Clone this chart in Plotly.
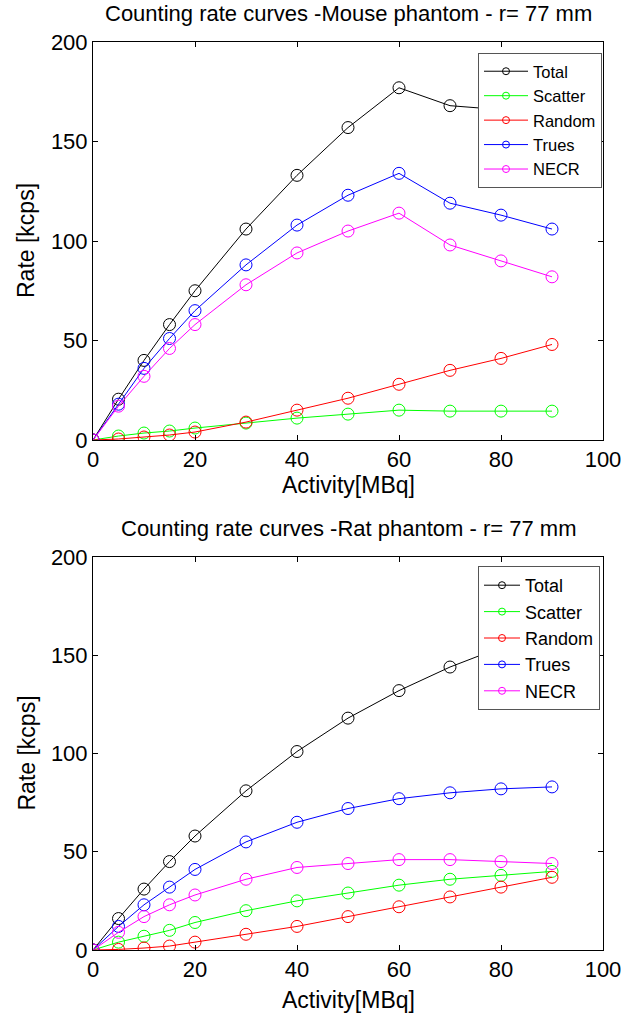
import plotly.graph_objects as go

activity = [0, 5, 10, 15, 20, 30, 40, 50, 60, 70, 80, 90]

mouse_total = [0, 20.5, 40, 58, 75, 106, 133, 157, 177, 168, 166, 162]
mouse_scatter = [0, 2, 3.5, 4.5, 6, 8.5, 11, 13, 15, 14.5, 14.5, 14.5]
mouse_random = [0, 0.5, 1.5, 2.5, 4, 9, 15, 21, 28, 35, 41, 48]
mouse_trues = [0, 18, 36, 51, 65, 88, 108, 123, 134, 119, 113, 106]
mouse_necr = [0, 17, 32, 46, 58, 78, 94, 105, 114, 98, 90, 82]

rat_total = [0, 16, 31, 45, 58, 81, 101, 118, 132, 144, 154, 162]
rat_scatter = [0, 4, 7, 10, 14, 20, 25, 29, 33, 36, 38, 40]
rat_random = [0, 0.3, 1, 2, 4, 8, 12, 17, 22, 27, 32, 37]
rat_trues = [0, 12, 23, 32, 41, 55, 65, 72, 77, 80, 82, 83]
rat_necr = [0, 9, 17, 23, 28, 36, 42, 44, 46, 46, 45, 44]

names = ["Total", "Scatter", "Random", "Trues", "NECR"]
colors = ["#000000", "#00ff00", "#ff0000", "#0000ff", "#ff00ff"]
titles = ["Counting rate curves -Mouse phantom - r= 77 mm",
          "Counting rate curves -Rat phantom - r= 77 mm"]
x_title = "Activity[MBq]"
y_title = "Rate [kcps]"
x_ticks = [0, 20, 40, 60, 80, 100]
y_ticks = [0, 50, 100, 150, 200]

W, H = 635, 1013
FONT = "Liberation Sans, Arial, sans-serif"

fig = go.Figure()

series_sets = [
    [mouse_total, mouse_scatter, mouse_random, mouse_trues, mouse_necr],
    [rat_total, rat_scatter, rat_random, rat_trues, rat_necr],
]

x0, x1 = 93 / W, 603 / W
ydoms = [(1 - 440 / H, 1 - 42 / H), (1 - 950 / H, 1 - 557 / H)]
title_y = [14, 528]
xlabel_y = [485, 1000]
legend_pos = [(602, 53), (600, 566)]
legend_font = [16.5, 18]
legend_itemwidth = [44, 36]

for i, sset in enumerate(series_sets):
    xa = "x" if i == 0 else "x2"
    ya = "y" if i == 0 else "y2"
    lg = "legend" if i == 0 else "legend2"
    for name, col, vals in zip(names, colors, sset):
        fig.add_trace(go.Scatter(
            x=activity, y=vals, name=name, mode="lines+markers",
            line=dict(color=col, width=1),
            marker=dict(symbol="circle-open", size=12, color=col, line=dict(width=1, color=col)),
            xaxis=xa, yaxis=ya, legend=lg, showlegend=False, cliponaxis=True,
        ))
    # legend entries (small markers as in the reference legend)
    for name, col in zip(names, colors):
        fig.add_trace(go.Scatter(
            x=[None], y=[None], name=name, mode="lines+markers",
            line=dict(color=col, width=1),
            marker=dict(symbol="circle-open", size=7, color=col, line=dict(width=1, color=col)),
            xaxis=xa, yaxis=ya, legend=lg, showlegend=True, hoverinfo="skip",
        ))

axis_common = dict(
    showline=True, linecolor="black", linewidth=1, mirror="ticks",
    ticks="inside", ticklen=5, tickcolor="black", showgrid=False, zeroline=False,
    tickfont=dict(family=FONT, size=22, color="black"), automargin=False,
)

for i in range(2):
    sx = "" if i == 0 else "2"
    fig.layout["xaxis" + sx] = dict(
        axis_common, domain=[x0, x1], range=[0, 100], tickvals=x_ticks,
        anchor="y" + sx, ticklabelstandoff=0,
    )
    fig.layout["yaxis" + sx] = dict(
        axis_common, domain=list(ydoms[i]), range=[0, 200], tickvals=y_ticks,
        anchor="x" + sx, ticklabelstandoff=0,
    )
    fig.add_annotation(
        text=titles[i], xref="paper", yref="paper",
        x=(x0 + x1) / 2, y=1 - title_y[i] / H, xanchor="center", yanchor="middle",
        showarrow=False, font=dict(family=FONT, size=22, color="black"),
    )
    fig.add_annotation(
        text=x_title, xref="paper", yref="paper",
        x=(x0 + x1) / 2, y=1 - xlabel_y[i] / H, xanchor="center", yanchor="middle",
        showarrow=False, font=dict(family=FONT, size=23, color="black"),
    )
    fig.add_annotation(
        text=y_title, xref="paper", yref="paper", textangle=-90,
        x=26 / W, y=(ydoms[i][0] + ydoms[i][1]) / 2, xanchor="center", yanchor="middle",
        showarrow=False, font=dict(family=FONT, size=23, color="black"),
    )

def legend_cfg(i):
    return dict(
        bgcolor="white", bordercolor="#555555", borderwidth=1,
        font=dict(family=FONT, size=legend_font[i], color="black"),
        xanchor="right", yanchor="top", tracegroupgap=0,
        itemwidth=legend_itemwidth[i],
        x=legend_pos[i][0] / W, y=1 - legend_pos[i][1] / H,
    )

fig.update_layout(
    width=W, height=H, margin=dict(l=0, r=0, t=0, b=0, autoexpand=False),
    paper_bgcolor="white", plot_bgcolor="white",
    legend=legend_cfg(0),
    legend2=legend_cfg(1),
)

fig.write_html("out.html")
